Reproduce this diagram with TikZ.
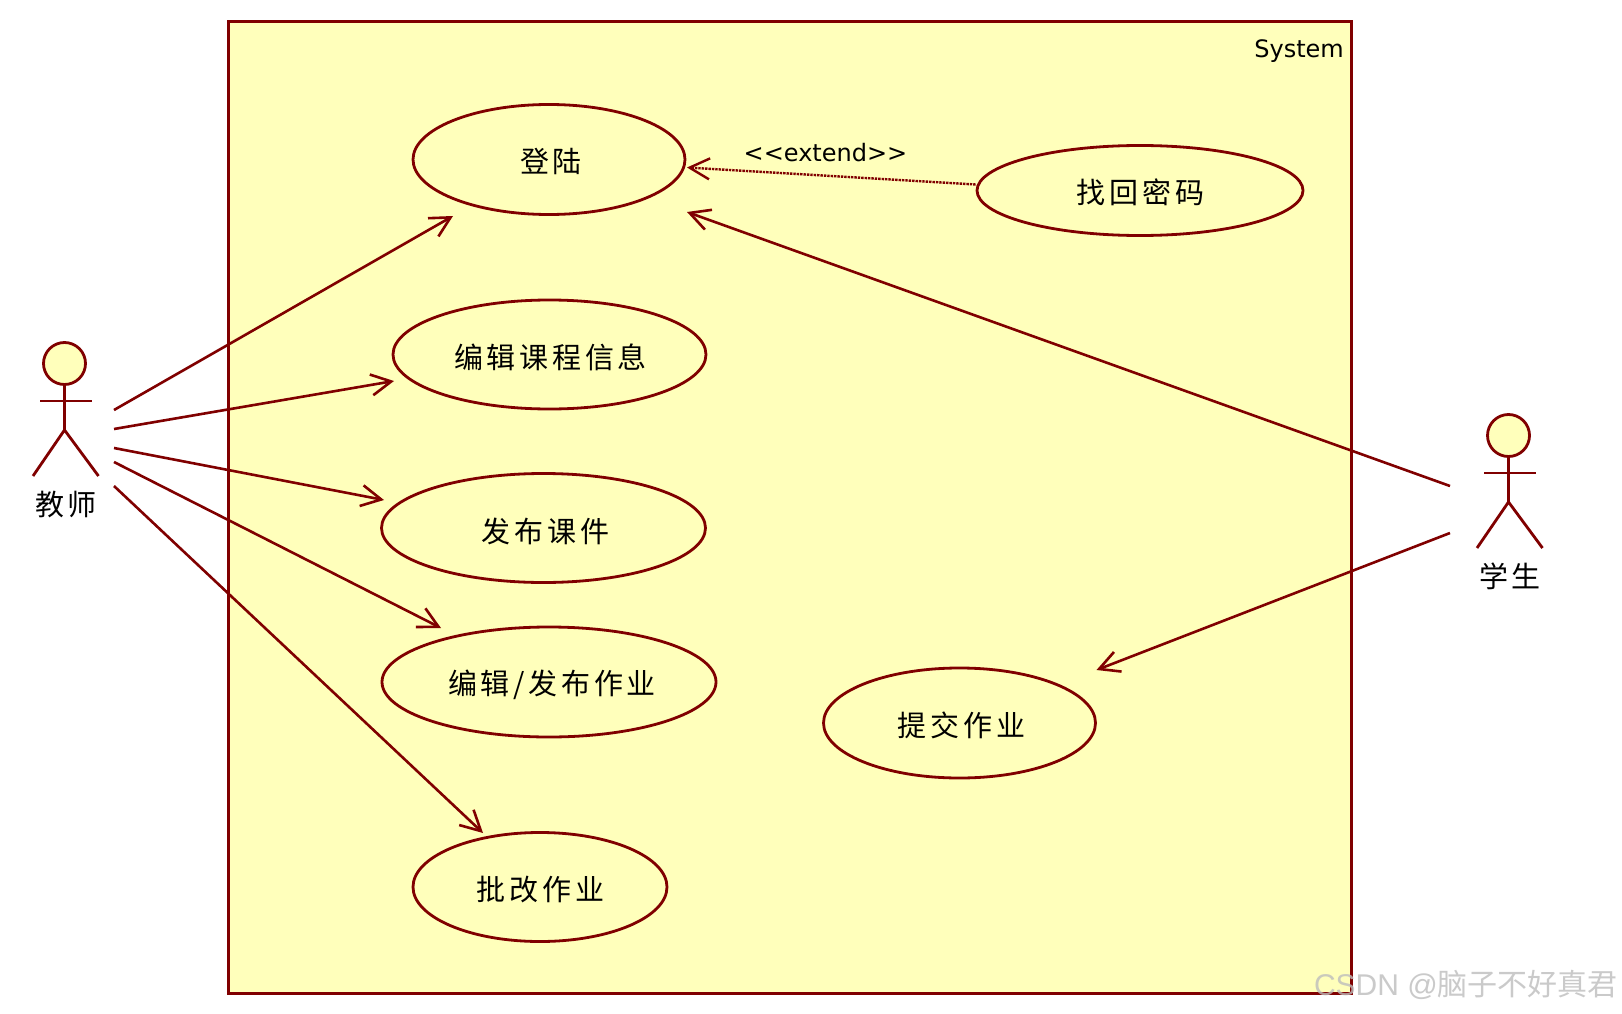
\documentclass[tikz,border=0pt]{standalone}
\usepackage{fontspec}
\usetikzlibrary{arrows.meta,shapes.geometric}
\setmainfont{DejaVu Sans}
\newfontfamily\cjk[LetterSpace=13]{Noto Sans CJK SC}
\newfontfamily\cjkplain{Noto Sans CJK SC}
\newfontfamily\wmfont{Liberation Sans}
\definecolor{umlline}{HTML}{800000}
\definecolor{umlfill}{HTML}{FFFFBB}
\definecolor{wmgray}{HTML}{BDBDBD}
\tikzset{
  usecase/.style={draw=umlline,line width=2.8pt,fill=umlfill,ellipse,inner sep=0pt,minimum width=#1},
  labeltext/.style={font=\cjk\fontsize{29}{32}\selectfont,text=black,inner sep=0pt},
  latintext/.style={font=\fontsize{24}{28}\selectfont,text=black,inner sep=0pt},
  assoc/.style={draw=umlline,line width=2.6pt,-{Straight Barb[length=20pt,width=21pt,line width=2.6pt]}},
  extendline/.style={draw=umlline,line width=2.4pt,densely dotted,-{Straight Barb[length=20pt,width=21pt,line width=2.4pt,line cap=butt,sep=0pt]}},
  limb/.style={draw=umlline,line width=2.8pt},
  headcircle/.style={draw=umlline,line width=2.8pt,fill=umlfill,circle,minimum size=42pt,inner sep=0pt}
}
\begin{document}
\begin{tikzpicture}[x=1pt,y=-1pt]
\useasboundingbox (0,0) rectangle (1622,1014);
\fill[white] (0,0) rectangle (1622,1014);
\draw[draw=umlline,line width=3pt,fill=umlfill] (228.5,22) rectangle (1351,993);
\node[latintext,anchor=east] (sys) at (1344,51) {System};

% use cases
\node[usecase=272pt,minimum height=110pt] (login) at (549,159.5) {};
\node[usecase=313pt,minimum height=109pt] (edit) at (549.5,354.5) {};
\node[usecase=324pt,minimum height=109pt] (pub) at (543.5,528) {};
\node[usecase=334pt,minimum height=110pt] (hw) at (549,682) {};
\node[usecase=254pt,minimum height=109pt] (grade) at (540,887) {};
\node[usecase=272pt,minimum height=110pt] (submit) at (959.5,723) {};
\node[usecase=326pt,minimum height=90pt] (forgot) at (1140,190.5) {};

\node[labeltext] (tlogin) at (551,161) {登陆};
\node[labeltext] (tedit) at (550.5,357) {编辑课程信息};
\node[labeltext] (tpub) at (545.5,531) {发布课件};
\node[labeltext] (thw) at (552,685) {编辑/发布作业};
\node[labeltext] (tgrade) at (540.5,890) {批改作业};
\node[labeltext] (tsubmit) at (961.5,725) {提交作业};
\node[labeltext] (tforgot) at (1140.5,192.5) {找回密码};
\node[latintext] (ext) at (825.5,153) {<{}<extend>{}>};

% teacher actor
\node[headcircle] (thead) at (64.5,363.5) {};
\coordinate (thip) at (64.5,430);
\coordinate (tarml) at (40,401);
\coordinate (tarmr) at (92,401);
\coordinate (tfootl) at (33,476);
\coordinate (tfootr) at (98.5,476);
\draw[limb] (thead.south) -- (thip);
\draw[limb] (tarml) -- (tarmr);
\draw[limb] (tfootl) -- (thip) -- (tfootr);
\node[labeltext] (teacher) at (66,505) {教师};

% student actor
\node[headcircle] (shead) at (1508.5,435.5) {};
\coordinate (ship) at (1508.5,502);
\coordinate (sarml) at (1484,473);
\coordinate (sarmr) at (1536,473);
\coordinate (sfootl) at (1477,548);
\coordinate (sfootr) at (1542.5,548);
\draw[limb] (shead.south) -- (ship);
\draw[limb] (sarml) -- (sarmr);
\draw[limb] (sfootl) -- (ship) -- (sfootr);
\node[labeltext] (student) at (1510,576) {学生};

% connector ends
\coordinate (t1) at (114,410);
\coordinate (t2) at (114,429);
\coordinate (t3) at (114,448);
\coordinate (t4) at (114,462);
\coordinate (t5) at (114,486);
\coordinate (s1) at (1450,486);
\coordinate (s2) at (1450,533);
\coordinate (e1) at (453,216);
\coordinate (e2) at (394,381);
\coordinate (e3) at (384,500);
\coordinate (e4) at (441,628);
\coordinate (e5) at (483,833);
\coordinate (e6) at (687,212);
\coordinate (e7) at (1096.5,670);
\coordinate (e8) at (687,167.5);

\draw[assoc] (t1) -- (e1);
\draw[assoc] (t2) -- (e2);
\draw[assoc] (t3) -- (e3);
\draw[assoc] (t4) -- (e4);
\draw[assoc] (t5) -- (e5);
\draw[assoc] (s1) -- (e6);
\draw[assoc] (s2) -- (e7);
\draw[extendline] (forgot.west) ++(0,-6) -- (e8);

\node[anchor=east,inner sep=0pt,text=wmgray,opacity=.8,font=\fontsize{30}{32}\selectfont] (wm) at (1618,985) {{\wmfont CSDN @}{\cjkplain 脑子不好真君}};
\end{tikzpicture}
\end{document}
